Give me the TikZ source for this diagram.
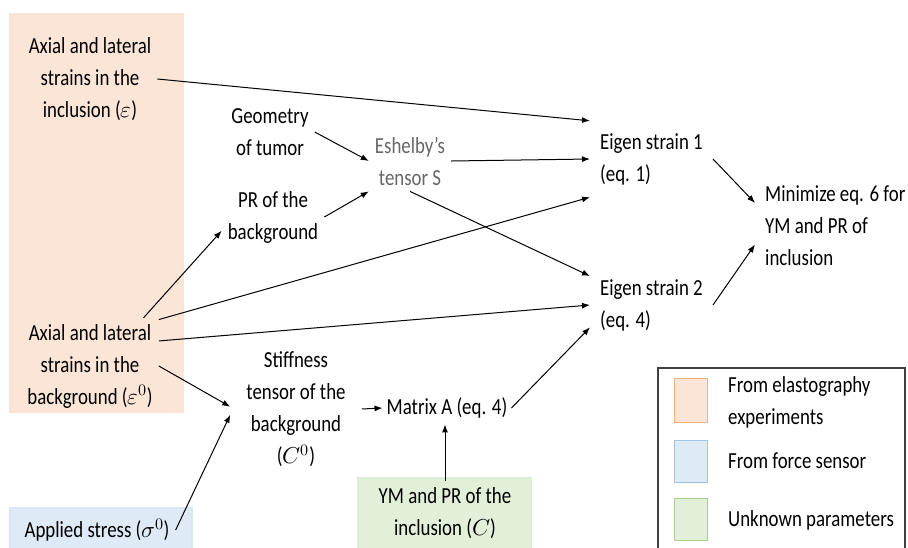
\documentclass[tikz,border=0pt]{standalone}
\usepackage{fontspec}
\usepackage{unicode-math}
\setmainfont{Carlito}[FakeStretch=0.82]
\usetikzlibrary{arrows.meta}

\definecolor{elastofill}{HTML}{FBE5D6}
\definecolor{elastoline}{HTML}{F4B183}
\definecolor{forcefill}{HTML}{DEEBF7}
\definecolor{forceline}{HTML}{9DC3E6}
\definecolor{unknownfill}{HTML}{E2F0D9}
\definecolor{unknownline}{HTML}{A9D18E}
\newcommand{\boxfont}{\fontsize{23}{32}\selectfont}

\tikzstyle{textnode} = [font=\boxfont,align=center,inner sep=6pt]
\tikzstyle{leftnode} = [textnode,align=left,anchor=west]
\tikzstyle{arrowdecorate} = [-{Latex[length=8pt,width=6pt]},line width=1pt]
\tikzstyle{elasto} = [fill=elastofill,draw=elastoline,line width=0.8pt]
\tikzstyle{force} = [fill=forcefill,draw=forceline,line width=0.8pt]
\tikzstyle{unknown} = [fill=unknownfill,draw=unknownline,line width=0.8pt]
\tikzstyle{softarea} = [line width=1.2pt]
\tikzstyle{legendframe} = [draw=black!75,line width=1.4pt]

\begin{document}
\begin{tikzpicture}[x=1pt,y=-1pt]
  \useasboundingbox (0,0) rectangle (908,547);
  \clip (0,0) rectangle (908,547);
  %source boxes
  \path[elasto,softarea,draw=elastoline!35] (10,14) rectangle (183,412);
  \path[force,softarea,draw=forceline!40] (10,508) rectangle (192,560);
  \path[unknown,softarea,draw=unknownline!40] (358,478) rectangle (531,560);

  %legend
  \draw[legendframe] (658,368) rectangle (905,560);
  \foreach \kind/\top/\bottom in {elasto/378/422, force/440/482, unknown/498/540}
    \path[\kind] (674,\top) rectangle (707,\bottom);
  \node[leftnode] (lgelasto) at (722,402) {From elastography\\experiments};
  \node[leftnode] (lgforce) at (722,461) {From force sensor};
  \node[leftnode] (lgunknown) at (722,520) {Unknown parameters};

  %nodes
  \foreach \nodename/\x/\y/\content in {
    incl/90/79/{Axial and lateral\\strains in the\\inclusion ($\varepsilon$)},
    geo/270/132/{Geometry\\of tumor},
    prb/273/217/{PR of the\\background},
    bgs/90/366/{Axial and lateral\\strains in the\\background ($\varepsilon^{0}$)},
    ymc/445/513/{YM and PR of the\\inclusion ($C$)},
    appl/97/530/{Applied stress ($\sigma^{0}$)}}
  {
    \node[textnode] (\nodename) at (\x,\y) {\content};
  };
  \node[textnode,inner xsep=6pt,text=black!60] (esh) at (410,161) {Eshelby’s\\tensor S};
  \node[textnode,inner xsep=16pt] (stiff) at (296,409) {Stiffness\\tensor of the\\background\\($C^{0}$)};
  \node[textnode,inner xsep=4pt] (matA) at (447,408) {Matrix A (eq. 4)};
  \node[leftnode,inner xsep=10pt,minimum height=76pt] (eig1) at (590,159) {Eigen strain 1\\(eq. 1)};
  \node[leftnode,inner xsep=10pt,inner ysep=3pt] (eig2) at (590,305) {Eigen strain 2\\(eq. 4)};
  \node[leftnode,inner xsep=10pt] (mini) at (755,226) {Minimize eq. 6 for\\YM and PR of\\inclusion};

  %edges
  \path
  \foreach \startnode/\endnode in {
    incl.east/eig1.north west, geo.east/esh.west, prb.east/esh.south west,
    esh.east/eig1.west, esh.south/eig2.north west, bgs.42/prb.195,
    bgs.34/eig1.south west, bgs.20/eig2.west, bgs.east/stiff.178,
    appl.east/stiff.185, stiff.east/matA.west, matA.east/eig2.200,
    eig1.east/mini.164, eig2.east/mini.193}
  {
    (\startnode) edge[arrowdecorate] (\endnode)
  };
  \draw[arrowdecorate] (ymc.north) -- (ymc.north |- matA.south);
\end{tikzpicture}
\end{document}
